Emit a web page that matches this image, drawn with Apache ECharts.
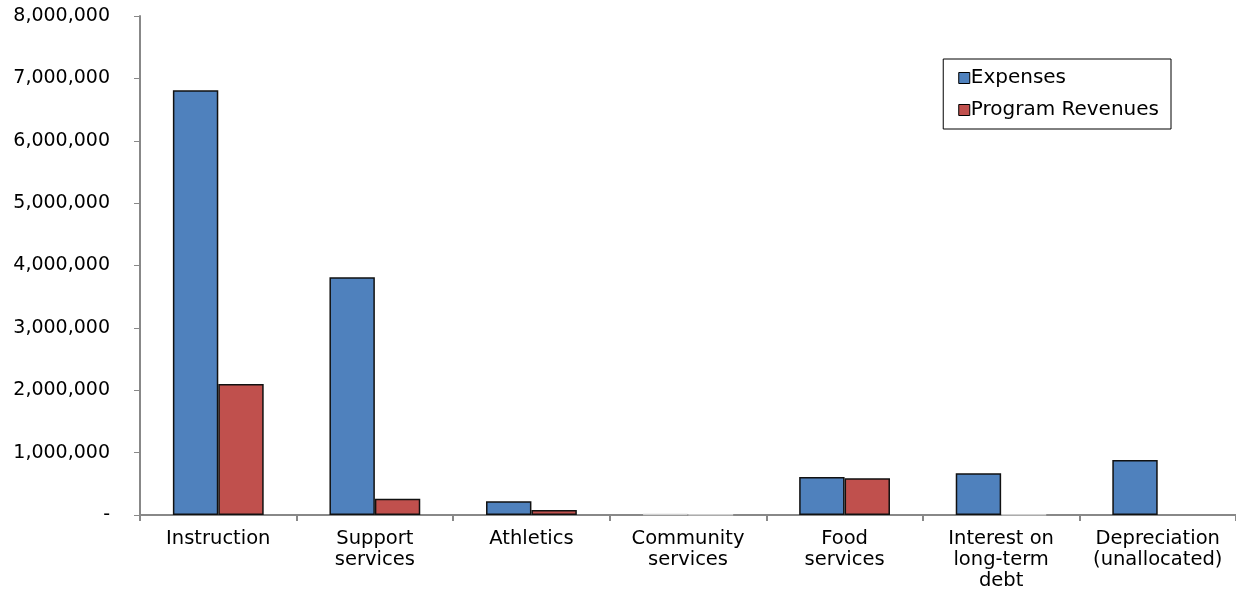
<!DOCTYPE html>
<html>
<head>
<meta charset="utf-8">
<script src="https://cdn.jsdelivr.net/npm/echarts@6/dist/echarts.min.js"></script>
<style>html,body{margin:0;padding:0;background:#fff;}#chart{width:1236px;height:610px;}</style>
</head>
<body>
<div id="chart"></div>
<script>
var categories = ["Instruction", "Support\nservices", "Athletics", "Community\nservices", "Food\nservices", "Interest on\nlong-term\ndebt", "Depreciation\n(unallocated)"];
var expenses = [6810000, 3810000, 220000, 15000, 610000, 670000, 880000];
var programRevenues = [2100000, 260000, 80000, 8000, 590000, 10000, 0];
var yTicks = [0, 1000000, 2000000, 3000000, 4000000, 5000000, 6000000, 7000000, 8000000];

var FONT = "DejaVu Sans";
var chart = echarts.init(document.getElementById('chart'));
function fmt(v){ return v === 0 ? '-' : v.toString().replace(/\B(?=(\d{3})+(?!\d))/g, ','); }
function styled(arr){
  return arr.map(function(v){
    if (v === 0) return {value: v, itemStyle: {borderWidth: 0}};
    if (v < 50000) return {value: v, itemStyle: {borderColor: '#d0d0d0'}};
    return v;
  });
}
chart.setOption({
  animation: false,
  textStyle: {fontFamily: FONT},
  grid: {left: 140, right: 0, top: 16, bottom: 95, containLabel: false},
  legend: {
    right: 65, top: 59, orient: 'vertical', itemWidth: 11, itemHeight: 11, itemGap: 12,
    icon: 'rect',
    padding: [9, 12, 9, 15], borderColor: '#000', borderWidth: 1,
    itemStyle: {borderColor: '#000', borderWidth: 1},
    textStyle: {fontFamily: FONT, fontSize: 20, color: '#000', padding: [0, 0, 0, -4]},
    data: ['Expenses', 'Program Revenues']
  },
  xAxis: {
    type: 'category', data: categories,
    axisLine: {lineStyle: {color: '#888', width: 2}},
    axisTick: {show: true, length: 6, lineStyle: {color: '#888', width: 2}},
    axisLabel: {fontFamily: FONT, fontSize: 19.5, color: '#000', margin: 13, lineHeight: 21, interval: 0}
  },
  yAxis: {
    type: 'value', min: yTicks[0], max: yTicks[yTicks.length - 1], interval: 1000000,
    axisLine: {show: true, lineStyle: {color: '#888', width: 2}},
    axisTick: {show: true, length: 6, lineStyle: {color: '#888', width: 1}},
    splitLine: {show: false},
    axisLabel: {fontFamily: FONT, fontSize: 19, color: '#000', margin: 30, formatter: fmt}
  },
  series: [
    {name: 'Expenses', type: 'bar', data: styled(expenses), barCategoryGap: '42%', barGap: '0%',
     itemStyle: {color: '#4F81BD', borderColor: '#111', borderWidth: 1.5}},
    {name: 'Program Revenues', type: 'bar', data: styled(programRevenues),
     itemStyle: {color: '#C0504D', borderColor: '#111', borderWidth: 1.5}}
  ]
});
</script>
</body>
</html>
